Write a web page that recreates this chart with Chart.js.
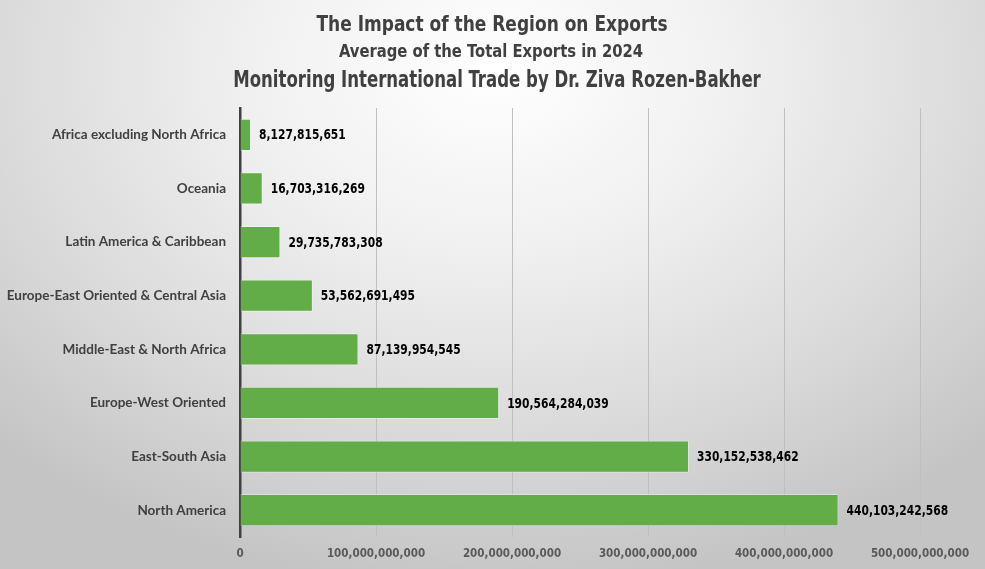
<!DOCTYPE html>
<html>
<head>
<meta charset="utf-8">
<script src="https://cdn.jsdelivr.net/npm/chart.js@4.4.0/dist/chart.umd.min.js"></script>
<style>
  html, body { margin: 0; padding: 0; }
  body { width: 985px; height: 569px; overflow: hidden; }
  #wrap {
    position: relative; width: 985px; height: 569px;
    background: radial-gradient(ellipse 72% 92% at 50% 12%, #ffffff 0%, #f0f0f0 35%, #dadada 70%, #c4c4c4 100%);
  }
</style>
</head>
<body>
<div id="wrap"><canvas id="exportsChart" width="985" height="569"></canvas></div>
<script>
// Chart data
const regions = [
    'Africa excluding North Africa',
    'Oceania',
    'Latin America & Caribbean',
    'Europe-East Oriented & Central Asia',
    'Middle-East & North Africa',
    'Europe-West Oriented',
    'East-South Asia',
    'North America'
];
const avgExports = [
    8127815651,
    16703316269,
    29735783308,
    53562691495,
    87139954545,
    190564284039,
    330152538462,
    440103242568
];
const titleLines = [
    'The Impact of the Region on Exports',
    'Average of the Total Exports in 2024',
    'Monitoring International Trade by Dr. Ziva Rozen-Bakher'
];
const axisMax = 500000000000;
const axisStep = 100000000000;

const narrowFont = '"DejaVu Sans Condensed", "DejaVu Sans", sans-serif';

// fillText squeezed horizontally (the original fonts are narrower than DejaVu)
const drawNarrow = (ctx, text, x, y, squeeze) => {
    const w = ctx.measureText(text).width;
    ctx.fillText(text, x, y, w * squeeze);
};

// Draws the three title lines (each has its own size)
const titlePlugin = {
    id: 'titleLines',
    afterDraw(chart) {
        const ctx = chart.ctx;
        const sizes = [22, 17.5, 23];
        const baselines = [31, 57, 87];
        const centers = [492, 491, 497];
        const squeeze = [0.86, 0.94, 0.8];
        ctx.save();
        ctx.fillStyle = '#404040';
        ctx.textAlign = 'center';
        ctx.textBaseline = 'alphabetic';
        titleLines.forEach((line, i) => {
            ctx.font = `bold ${sizes[i]}px ${narrowFont}`;
            drawNarrow(ctx, line, centers[i], baselines[i], squeeze[i]);
        });
        ctx.restore();
    }
};

// Value labels at the end of each bar
const valueLabels = {
    id: 'valueLabels',
    afterDatasetsDraw(chart) {
        const ctx = chart.ctx;
        const meta = chart.getDatasetMeta(0);
        ctx.save();
        ctx.fillStyle = '#000000';
        ctx.font = `bold 14px ${narrowFont}`;
        ctx.textAlign = 'left';
        ctx.textBaseline = 'middle';
        meta.data.forEach((bar, i) => {
            drawNarrow(ctx, avgExports[i].toLocaleString('en-US'), bar.x + 8, bar.y + 1, 0.85);
        });
        ctx.restore();
    }
};

new Chart(document.getElementById('exportsChart'), {
    type: 'bar',
    data: {
        labels: regions,
        datasets: [{
            data: avgExports,
            backgroundColor: '#62ad47',
            borderColor: 'rgba(255,255,255,0.35)',
            borderWidth: 1,
            borderSkipped: 'start',
            categoryPercentage: 1,
            barPercentage: 0.6
        }]
    },
    options: {
        indexAxis: 'y',
        responsive: false,
        animation: false,
        layout: { padding: { top: 108, right: 65, bottom: 0, left: 0 } },
        plugins: {
            legend: { display: false },
            title: { display: false },
            tooltip: { enabled: false }
        },
        scales: {
            x: {
                min: 0,
                max: axisMax,
                ticks: {
                    stepSize: axisStep,
                    padding: 10,
                    color: '#595959',
                    font: { family: narrowFont, size: 11.5, weight: 'bold' },
                    callback: v => v.toLocaleString('en-US')
                },
                grid: { color: '#bfbfbf', lineWidth: 1, drawTicks: false },
                border: { display: false },
                afterFit: scale => { scale.height = 32; }
            },
            y: {
                ticks: {
                    padding: 14,
                    color: '#404040',
                    font: { family: 'Lato, sans-serif', size: 13.5, weight: 'bold' }
                },
                grid: { display: false, drawTicks: false },
                border: { display: true, color: '#404040', width: 2.5 },
                afterFit: scale => { scale.width = 240; }
            }
        }
    },
    plugins: [titlePlugin, valueLabels]
});
</script>
</body>
</html>
